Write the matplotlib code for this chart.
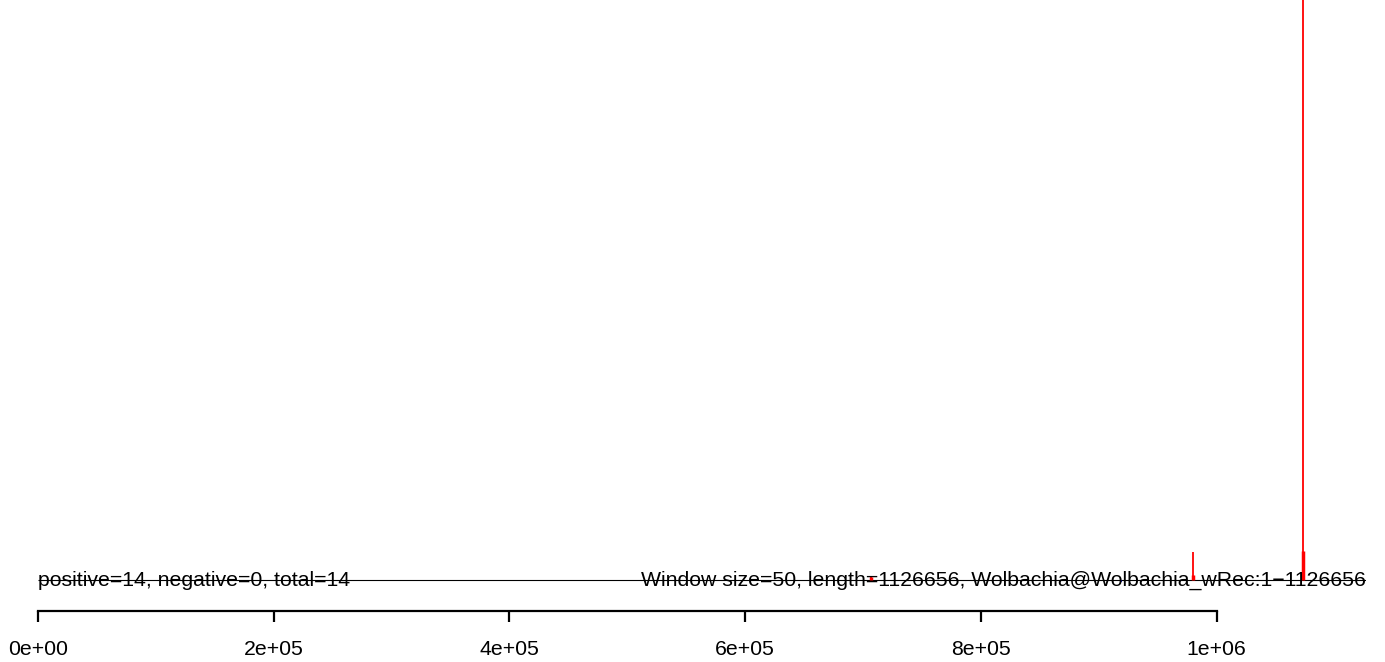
import numpy as np
import matplotlib
matplotlib.use("Agg")
import matplotlib.pyplot as plt

plt.rcParams["font.family"] = ["Liberation Sans", "DejaVu Sans"]

# data
genome_length = 1126656
tick_values = [0, 200000, 400000, 600000, 800000, 1000000]
tick_labels = ["0e+00", "2e+05", "4e+05", "6e+05", "8e+05", "1e+06"]

# thin red lines (per-window signal)
line_pos = [706500, 979600, 1072900]
line_height = [4, 28, 2000]
# thick red bars (positive hits)
bar_pos = [706500, 979600, 1072900]
bar_height = [3, 5, 29]
# blue (negative strand) mark
neg_pos = [918600]
neg_height = [-2]

left_text = "positive=14, negative=0, total=14"
right_text = "Window size=50, length=1126656, Wolbachia@Wolbachia_wRec:1\u22121126656"

W, H = 1385, 662
fig = plt.figure(figsize=(W / 100, H / 100), dpi=100)
x0, x1 = 38, 1366
ax = fig.add_axes([x0 / W, (H - 611) / H, (x1 - x0) / W, 611 / H])
ax.set_xlim(0, genome_length)
ax.set_ylim(-31, 580)

ax.hlines(0, 0, genome_length, color="black", lw=0.8)
ax.vlines(line_pos, 0, line_height, color="red", lw=1.3)
ax.vlines(bar_pos, 0, bar_height, color="red", lw=2.5)
ax.vlines(neg_pos, 0, neg_height, color="blue", lw=1.2)

ax.text(0, 0, left_text, ha="left", va="center", fontsize=15.3)
ax.text(genome_length, 0, right_text, ha="right", va="center", fontsize=15.3)

for s in ["top", "right", "left"]:
    ax.spines[s].set_visible(False)
ax.spines["bottom"].set_bounds(0, 1000000)
ax.spines["bottom"].set_linewidth(1.6)
ax.set_yticks([])
ax.set_xticks(tick_values)
ax.set_xticklabels(tick_labels, fontsize=15.3)
ax.tick_params(axis="x", length=8, width=1.6, pad=13)

fig.savefig("out.png", dpi=100)
